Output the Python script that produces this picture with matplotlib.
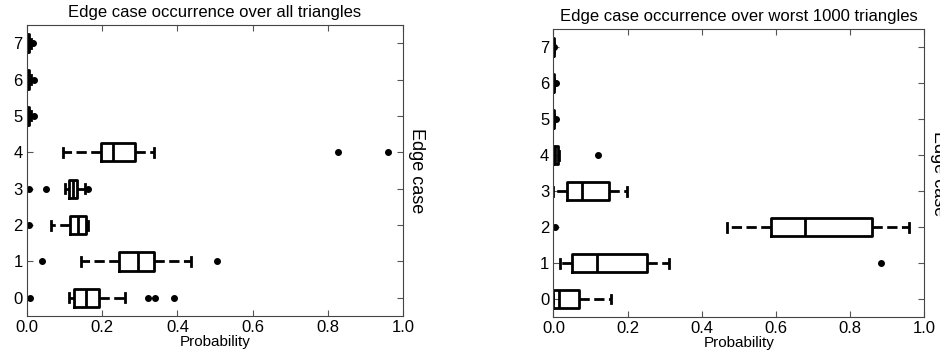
import matplotlib
matplotlib.use("Agg")
import matplotlib.pyplot as plt

plt.rcParams['font.family'] = ['Liberation Sans', 'DejaVu Sans']

cases = [0, 1, 2, 3, 4, 5, 6, 7]

# over all triangles
all_q1 = [0.124, 0.246, 0.115, 0.113, 0.196, 0.0, 0.0, 0.0]
all_med = [0.158, 0.294, 0.135, 0.122, 0.229, 0.002, 0.002, 0.002]
all_q3 = [0.191, 0.339, 0.157, 0.132, 0.287, 0.005, 0.005, 0.005]
all_lo = [0.111, 0.144, 0.065, 0.100, 0.097, 0.0, 0.0, 0.0]
all_hi = [0.260, 0.435, 0.161, 0.155, 0.339, 0.012, 0.012, 0.012]
all_fliers = [[0.008, 0.321, 0.341, 0.392], [0.040, 0.505], [0.006],
              [0.006, 0.050, 0.163], [0.828, 0.960], [0.019], [0.019], [0.017]]

# over worst 1000 triangles
worst_q1 = [0.0, 0.050, 0.588, 0.036, 0.0, 0.0, 0.0, 0.0]
worst_med = [0.015, 0.118, 0.679, 0.077, 0.004, 0.0, 0.0, 0.0]
worst_q3 = [0.069, 0.253, 0.859, 0.150, 0.012, 0.001, 0.001, 0.001]
worst_lo = [0.0, 0.018, 0.468, 0.0, 0.0, 0.0, 0.0, 0.0]
worst_hi = [0.154, 0.313, 0.960, 0.198, 0.015, 0.002, 0.002, 0.001]
worst_fliers = [[], [0.883], [0.004], [], [0.119], [0.008], [0.006], [0.002]]


def make_stats(q1, med, q3, lo, hi, fliers):
    stats = []
    for i in range(len(q1)):
        stats.append({"q1": q1[i], "med": med[i], "q3": q3[i],
                      "whislo": lo[i], "whishi": hi[i], "fliers": fliers[i]})
    return stats


def draw(ax, stats, title):
    ax.bxp(stats, positions=cases, widths=0.5, orientation="horizontal",
           boxprops=dict(color="black", linewidth=2),
           medianprops=dict(color="black", linewidth=2),
           whiskerprops=dict(color="black", linewidth=2, linestyle="--"),
           capprops=dict(color="black", linewidth=2),
           flierprops=dict(marker="o", markerfacecolor="black",
                           markeredgecolor="black", markersize=4))
    ax.set_xlim(0, 1.0)
    ax.set_ylim(-0.5, 7.5)
    ax.set_yticks(cases)
    ax.set_yticklabels([str(c) for c in cases])
    ax.set_xticks([0, 0.2, 0.4, 0.6, 0.8, 1.0])
    ax.set_xticklabels(["0.0", "0.2", "0.4", "0.6", "0.8", "1.0"])
    ax.tick_params(direction="in", top=True, right=True, labelsize=12,
                   length=4, color="#555555", pad=3)
    for s in ax.spines.values():
        s.set_color("#444444")
    ax.set_title(title, fontsize=12)
    ax.set_xlabel("Probability", fontsize=11, labelpad=0)
    ax.yaxis.set_label_position("right")
    ax.set_ylabel("Edge case", fontsize=13, rotation=270, labelpad=16)


fig = plt.figure(figsize=(9.4, 3.56), dpi=100)
ax1 = fig.add_axes([0.0287, 0.1124, 0.4, 0.8174])
ax2 = fig.add_axes([0.5887, 0.1096, 0.3946, 0.8081])

draw(ax1, make_stats(all_q1, all_med, all_q3, all_lo, all_hi, all_fliers),
     "Edge case occurrence over all triangles")
draw(ax2, make_stats(worst_q1, worst_med, worst_q3, worst_lo, worst_hi, worst_fliers),
     "Edge case occurrence over worst 1000 triangles")

fig.savefig("out.png", dpi=100)
